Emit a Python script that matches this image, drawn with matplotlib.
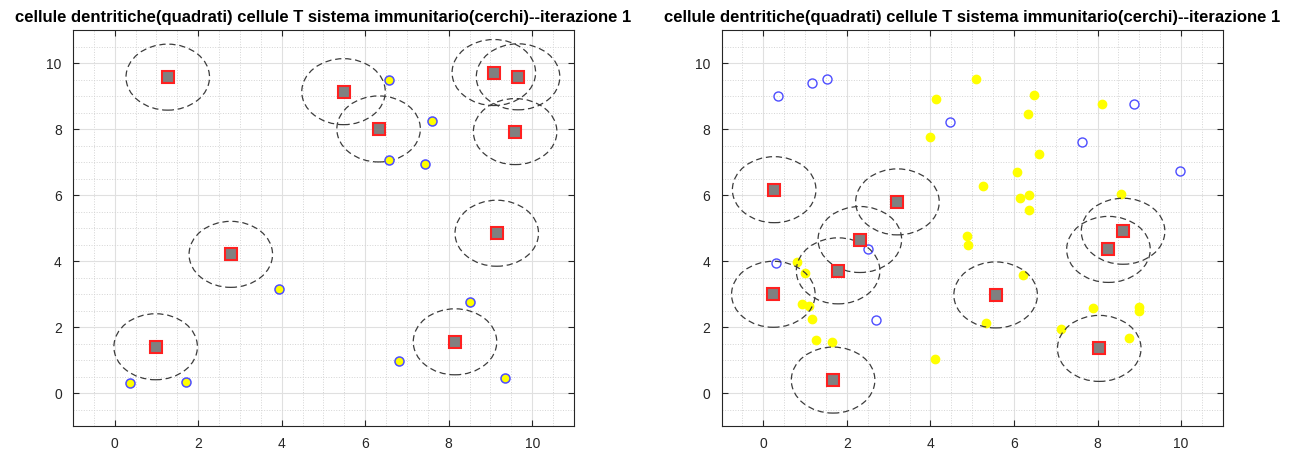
import matplotlib
matplotlib.use('Agg')
import matplotlib.pyplot as plt
from matplotlib.patches import Circle
from matplotlib.ticker import MultipleLocator

plt.rcParams['font.family'] = ['Liberation Sans', 'DejaVu Sans']

title = 'cellule dentritiche(quadrati) cellule T sistema immunitario(cerchi)--iterazione 1'

# left panel: dendritic cells (squares) and T cells
dc_x_1 = [1.27, 5.48, 6.32, 9.08, 9.66, 9.59, 9.15, 8.15, 2.78, 0.98]
dc_y_1 = [9.58, 9.14, 8.01, 9.72, 9.59, 7.93, 4.85, 1.56, 4.21, 1.41]
t_x_1 = [6.56, 7.59, 6.57, 7.44, 3.93, 0.36, 1.70, 8.50, 6.80, 9.35]
t_y_1 = [9.50, 8.25, 7.07, 6.95, 3.16, 0.31, 0.33, 2.77, 0.97, 0.45]

# right panel
dc_x_2 = [0.26, 3.21, 2.31, 1.79, 0.24, 1.67, 8.61, 8.26, 5.56, 8.04]
dc_y_2 = [6.17, 5.80, 4.66, 3.71, 3.00, 0.40, 4.91, 4.36, 2.98, 1.36]
free_x_2 = [0.34, 1.16, 1.52, 4.47, 7.62, 8.86, 9.97, 0.31, 2.51, 2.70]
free_y_2 = [9.01, 9.39, 9.51, 8.21, 7.61, 8.76, 6.75, 3.94, 4.38, 2.23]
act_x_2 = [4.14, 3.99, 5.09, 6.48, 6.34, 8.10, 6.59, 6.07, 5.25, 6.14,
           6.37, 6.36, 8.56, 4.87, 4.89, 6.21, 5.32, 7.88, 7.13, 8.98,
           9.00, 8.75, 0.81, 1.00, 0.93, 1.09, 1.17, 1.26, 1.64, 4.11]
act_y_2 = [8.91, 7.76, 9.52, 9.03, 8.46, 8.76, 7.26, 6.70, 6.27, 5.93,
           6.02, 5.54, 6.05, 4.77, 4.49, 3.59, 2.14, 2.57, 1.94, 2.60,
           2.50, 1.68, 3.98, 3.63, 2.70, 2.63, 2.26, 1.62, 1.56, 1.04]
radius = 1.0

ticks = [0, 2, 4, 6, 8, 10]
axis_col = '#262626'
blue = '#4d4dff'


def style_axes(ax):
    ax.set_xlim(-1, 11)
    ax.set_ylim(-1, 11)
    ax.set_xticks(ticks)
    ax.set_yticks(ticks)
    ax.xaxis.set_minor_locator(MultipleLocator(0.5))
    ax.yaxis.set_minor_locator(MultipleLocator(0.5))
    ax.grid(True, which='major', color='#e0e0e0', linewidth=0.8)
    ax.grid(True, which='minor', color='#d4d4d4', linestyle=':', linewidth=0.7)
    ax.set_axisbelow(True)
    ax.tick_params(which='both', direction='in', top=True, right=True,
                   colors=axis_col, labelsize=10, labelcolor=axis_col)
    ax.tick_params(which='major', length=4, width=0.8, pad=8)
    ax.tick_params(which='minor', length=0)
    for s in ax.spines.values():
        s.set_color(axis_col)
        s.set_linewidth(0.8)
    ax.set_title(title, fontsize=12, fontweight='bold', pad=6)


def draw_dc(ax, xs, ys):
    for x, y in zip(xs, ys):
        ax.add_patch(Circle((x, y), radius, fill=False, edgecolor='#3c3c3c',
                            linewidth=0.9, linestyle=(0, (5, 3)), zorder=3))
    ax.plot(xs, ys, 's', markersize=8.5, markerfacecolor='#808080',
            markeredgecolor='#ff2020', markeredgewidth=1.5, linestyle='none', zorder=4)


fig = plt.figure(figsize=(13.01, 4.5), dpi=100)
ax1 = fig.add_axes([0.0561, 0.0527, 0.3851, 0.88])
ax2 = fig.add_axes([0.5546, 0.0527, 0.3854, 0.88])

style_axes(ax1)
draw_dc(ax1, dc_x_1, dc_y_1)
ax1.plot(t_x_1, t_y_1, 'o', markersize=6.5, markerfacecolor='#ffff00',
         markeredgecolor=blue, markeredgewidth=1.1, linestyle='none', zorder=5)

style_axes(ax2)
ax2.plot(act_x_2, act_y_2, 'o', markersize=6, markerfacecolor='#ffff00',
         markeredgecolor='#ffff00', linestyle='none', zorder=2)
ax2.plot(free_x_2, free_y_2, 'o', markersize=6.5, markerfacecolor='none',
         markeredgecolor=blue, markeredgewidth=1.0, linestyle='none', zorder=2)
draw_dc(ax2, dc_x_2, dc_y_2)

fig.savefig('out.png', dpi=100)
